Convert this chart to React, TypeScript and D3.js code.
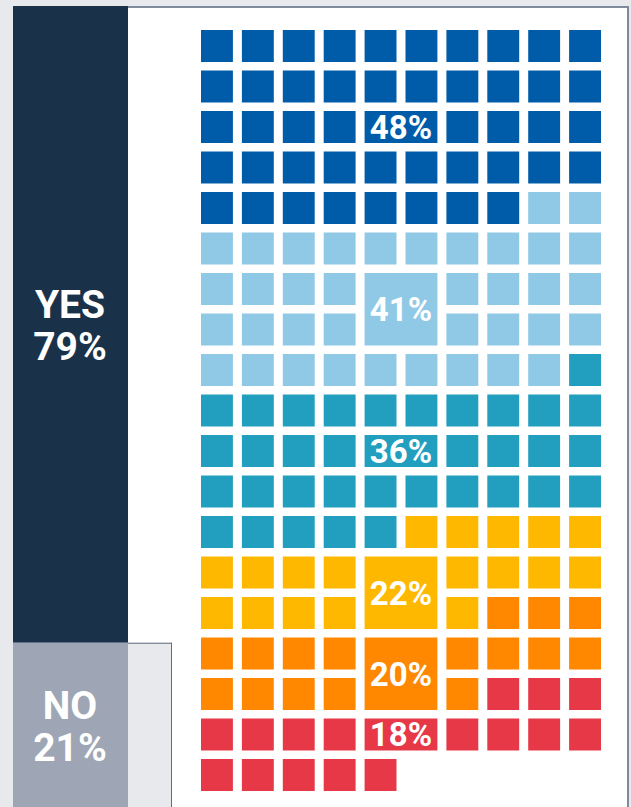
import React from "react";
import * as d3 from "d3";

// waffle series, top to bottom
const seriesCounts = [48, 41, 36, 22, 20, 18];
const seriesLabels = ["48%", "41%", "36%", "22%", "20%", "18%"];
const seriesColors = ["#005ca9", "#90c9e6", "#229fbf", "#ffb800", "#ff8800", "#e73847"];
// row where each label block sits, and how many rows it covers
const labelRows = [2, 6, 10, 13, 15, 17];
const labelSpans = [1, 2, 1, 2, 2, 1];

// yes / no split
const splitLabels = ["YES", "NO"];
const splitValues = [79, 21];
const splitColors = ["#1a3249", "#9ea6b5"];

const W = 631;
const H = 807;
const cols = 10;
const rows = 19;
const labelCol = 4;

const App: React.FC = () => {
  const x = d3
    .scaleBand<number>()
    .domain(d3.range(cols))
    .range([201, 601])
    .paddingInner(0.22);
  const y = d3
    .scaleBand<number>()
    .domain(d3.range(rows))
    .range([30, 791])
    .paddingInner(0.21);
  const bw = x.bandwidth();
  const bh = y.bandwidth();

  // build cells from counts
  const cells: { i: number; s: number }[] = [];
  let idx = 0;
  seriesCounts.forEach((c, s) => {
    for (let k = 0; k < c; k++) cells.push({ i: idx++, s });
  });

  const inLabel = (r: number, c: number) =>
    labelRows.some(
      (lr, s) => c >= labelCol && c <= labelCol + 1 && r >= lr && r < lr + labelSpans[s]
    );

  // stacked yes/no bar
  const sy = d3.scaleLinear().domain([0, 100]).range([6, 812]);
  let acc = 0;
  const splits = splitValues.map((v, i) => {
    const y0 = sy(acc);
    acc += v;
    const y1 = sy(acc);
    return { y0, y1, label: splitLabels[i], value: v, color: splitColors[i] };
  });

  return (
    <div style={{ position: "absolute", left: 0, top: 0 }}>
      <svg width={W} height={H} style={{ display: "block", fontFamily: "Roboto, sans-serif" }}>
        <rect x={0} y={0} width={W} height={H} fill="#e8e9ed" />
        {/* white panel */}
        <rect x={128} y={6} width={500} height={H} fill="#ffffff" />
        <line x1={128} x2={629} y1={7} y2={7} stroke="#808a9a" strokeWidth={2} />
        <line x1={628} x2={628} y1={6} y2={H} stroke="#808a9a" strokeWidth={2} />
        {/* NO frame */}
        <rect x={128} y={splits[1].y0} width={44} height={H} fill="#e8e9ed" />
        <line x1={128} x2={172} y1={splits[1].y0 + 0.5} y2={splits[1].y0 + 0.5} stroke="#5f6e82" />
        <line x1={171.5} x2={171.5} y1={splits[1].y0} y2={H} stroke="#5f6e82" />

        {splits.map((d) => {
          const mid = (d.y0 + Math.min(d.y1, H)) / 2;
          return (
            <g key={d.label}>
              <rect x={13} y={d.y0} width={115} height={d.y1 - d.y0} fill={d.color} />
              <text textAnchor="middle" fill="#ffffff" fontSize={39} fontWeight={700}>
                <tspan x={70} y={mid - 6}>{d.label}</tspan>
                <tspan x={70} y={mid + 36}>{d.value}%</tspan>
              </text>
            </g>
          );
        })}

        {cells.map((d) => {
          const r = Math.floor(d.i / cols);
          const c = d.i % cols;
          if (inLabel(r, c)) return null;
          return (
            <rect
              key={d.i}
              x={x(c)}
              y={y(r)}
              width={bw}
              height={bh}
              fill={seriesColors[d.s]}
            />
          );
        })}

        {labelRows.map((lr, s) => {
          const x0 = x(labelCol)!;
          const x1 = x(labelCol + 1)! + bw;
          const y0 = y(lr)!;
          const y1 = y(lr + labelSpans[s] - 1)! + bh;
          return (
            <g key={seriesLabels[s]}>
              <rect x={x0} y={y0} width={x1 - x0} height={y1 - y0} fill={seriesColors[s]} />
              <text
                x={(x0 + x1) / 2}
                y={(y0 + y1) / 2 + 11.8}
                textAnchor="middle"
                fill="#ffffff"
                fontSize={33}
                fontWeight={700}
              >
                {seriesLabels[s]}
              </text>
            </g>
          );
        })}
      </svg>
    </div>
  );
};

export default App;
